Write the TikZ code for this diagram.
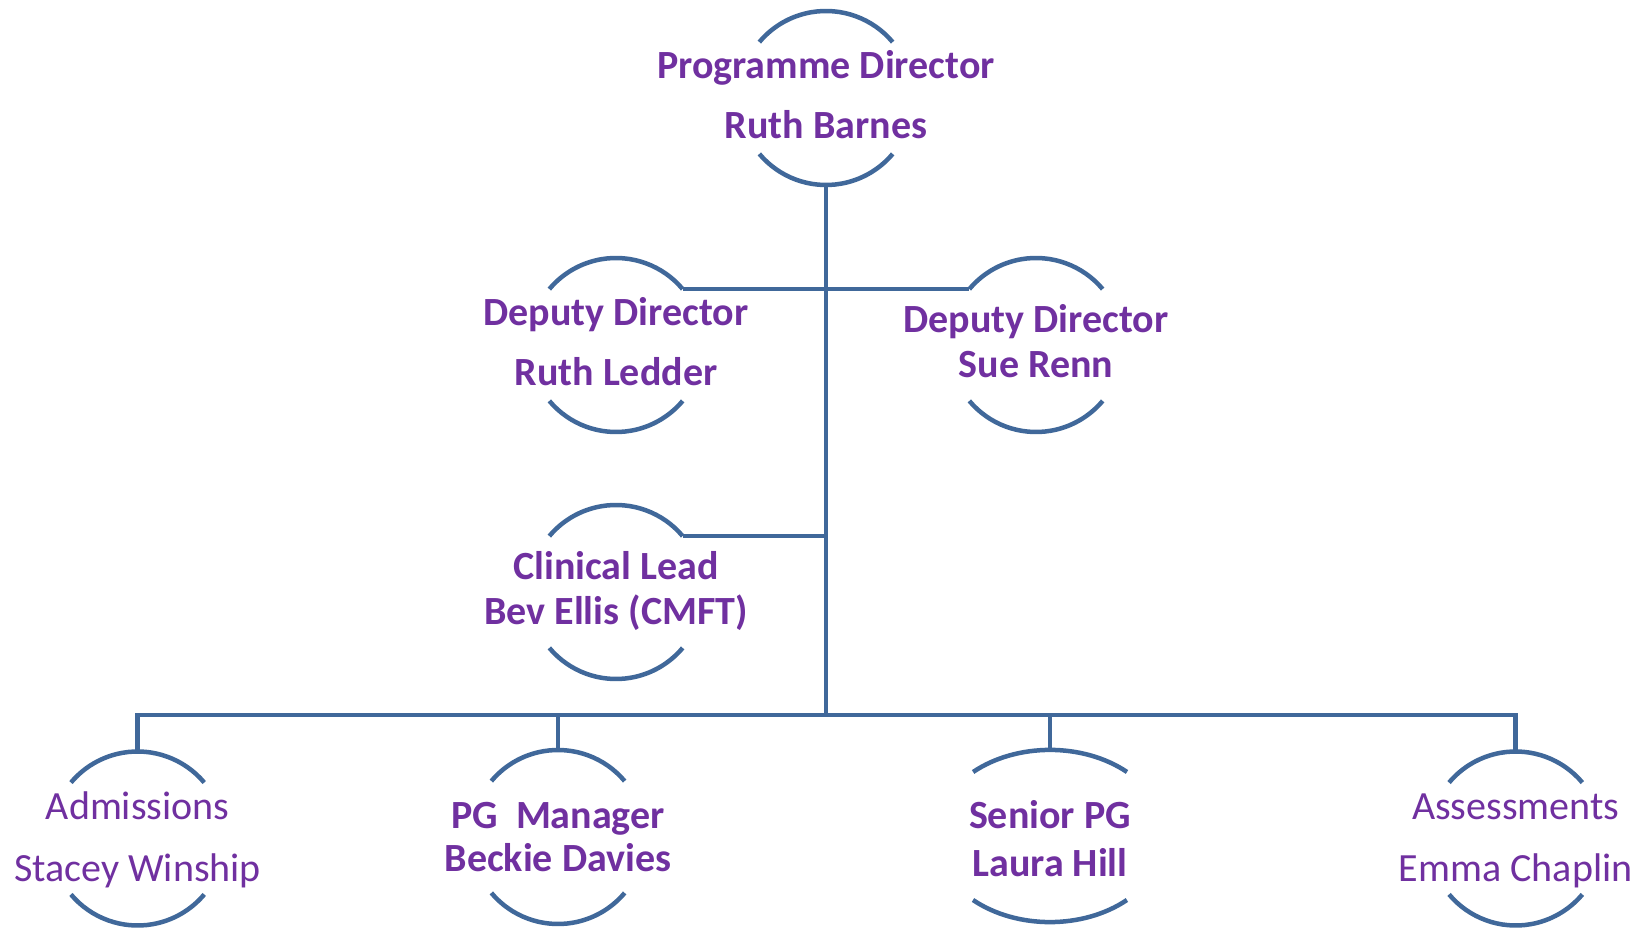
\documentclass[tikz,border=0pt]{standalone}
\usepackage{fontspec}
\setmainfont{Carlito}
\usetikzlibrary{calc}
\definecolor{lineblue}{RGB}{64,104,154}
\definecolor{txtpurple}{RGB}{112,48,160}
\tikzset{
  conn/.style={draw=lineblue, line width=4.5pt, line cap=butt, line join=miter},
  halfarc/.style={draw=lineblue, line width=4.5pt, line cap=butt},
  boldtxt/.style={anchor=base, inner sep=0pt, text=txtpurple, font=\fontsize{40}{48}\selectfont\bfseries},
  regtxt/.style={anchor=base, inner sep=0pt, text=txtpurple, font=\fontsize{40}{48}\selectfont},
}
\begin{document}
\begin{tikzpicture}[x=1pt, y=1pt]
\useasboundingbox (0,0) rectangle (1647,927);
\fill[white] (0,0) rectangle (1647,927);

% node centres
\coordinate (pd) at (826,829);
\coordinate (rl) at (616,582);
\coordinate (sr) at (1036,582);
\coordinate (cl) at (616,335);
\coordinate (ad) at (137.6,88.5);
\coordinate (pm) at (558,90);
\coordinate (sp) at (1050,91);
\coordinate (as) at (1515.7,88.5);

% circle halves
\foreach \c in {pd,rl,sr,cl,ad,pm,as}{
  \draw[halfarc] (\c) ++(40:87pt) arc[start angle=40, end angle=140, radius=87pt];
  \draw[halfarc] (\c) ++(220:87pt) arc[start angle=220, end angle=320, radius=87pt];
}
\draw[halfarc] (sp) ++(77,64) arc[start angle=48, end angle=132, x radius=115pt, y radius=86pt];
\draw[halfarc] (sp) ++(-77,-64) arc[start angle=228, end angle=312, x radius=115pt, y radius=86pt];

% anchor points on the shapes
\coordinate (pd-bot) at ($(pd)+(0,-87)$);
\coordinate (rl-tr) at ($(rl)+(40:87pt)$);
\coordinate (sr-tl) at ($(sr)+(140:87pt)$);
\coordinate (cl-tr) at ($(cl)+(40:87pt)$);
\coordinate (ad-top) at ($(ad)+(0,87)$);
\coordinate (pm-top) at ($(pm)+(0,87)$);
\coordinate (sp-top) at ($(sp)+(0,86)$);
\coordinate (as-top) at ($(as)+(0,87)$);

% junctions
\coordinate (j-top) at (pd-bot |- rl-tr);
\coordinate (j-cl) at (pd-bot |- cl-tr);
\coordinate (j-bot) at (826,212);
\coordinate (b-ad) at (ad-top |- j-bot);
\coordinate (b-pm) at (pm-top |- j-bot);
\coordinate (b-sp) at (sp-top |- j-bot);
\coordinate (b-as) at (as-top |- j-bot);

% connectors
\draw[conn] (pd-bot) -- (j-bot);
\draw[conn] (rl-tr) -- (sr-tl);
\draw[conn] (cl-tr) -- (j-cl);
\draw[conn] (ad-top) -- (b-ad) -- (b-as) -- (as-top);
\draw[conn] (b-pm) -- (pm-top);
\draw[conn] (b-sp) -- (sp-top);

% texts
\node[boldtxt] (pd-1) at (826,848) {Programme Director};
\node[boldtxt] (pd-2) at (826,788) {Ruth Barnes};
\node[boldtxt] (rl-1) at (616,601.5) {Deputy Director};
\node[boldtxt] (rl-2) at (616,541.5) {Ruth Ledder};
\node[boldtxt] (sr-1) at (1036,594) {Deputy Director};
\node[boldtxt] (sr-2) at (1036,549) {Sue Renn};
\node[boldtxt] (cl-1) at (616,347) {Clinical Lead};
\node[boldtxt] (cl-2) at (616,302) {Bev Ellis (CMFT)};
\node[regtxt] (ad-1) at (137.6,108) {Admissions};
\node[regtxt] (ad-2) at (137.6,46) {Stacey Winship};
\node[boldtxt] (pm-1) at (558,99) {PG\ \ Manager};
\node[boldtxt] (pm-2) at (558,56) {Beckie Davies};
\node[boldtxt] (sp-1) at (1050,99) {Senior PG};
\node[boldtxt] (sp-2) at (1050,51) {Laura Hill};
\node[regtxt] (as-1) at (1515.7,108) {Assessments};
\node[regtxt] (as-2) at (1515.7,46) {Emma Chaplin};
\end{tikzpicture}
\end{document}
